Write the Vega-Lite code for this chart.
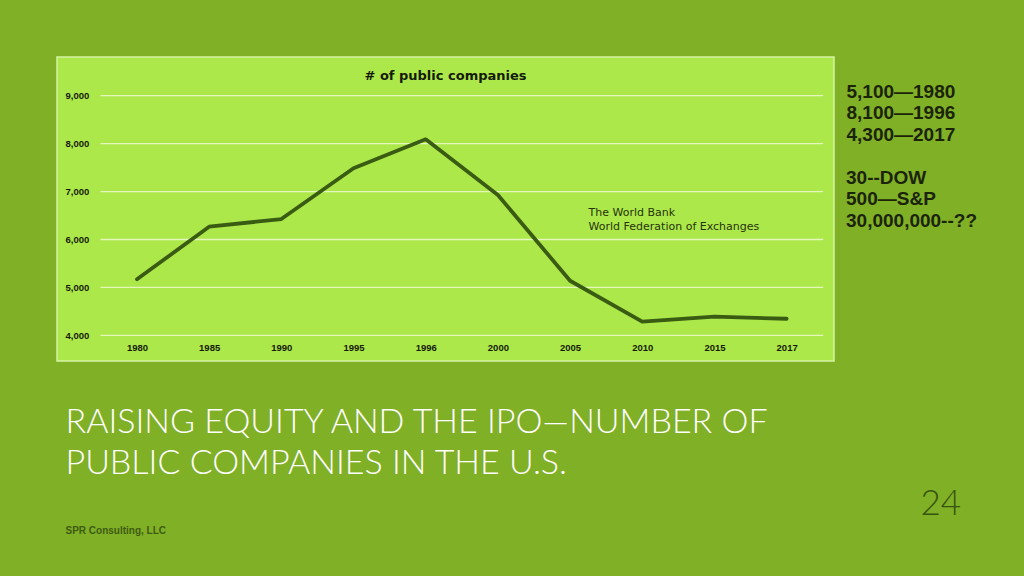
{
  "$schema": "https://vega.github.io/schema/vega-lite/v6.json",
  "width": 777,
  "height": 304,
  "autosize": {"type": "none"},
  "padding": {"left": 57, "top": 57, "right": 190, "bottom": 215},
  "background": "#80b026",
  "title": {
    "text": "# of public companies",
    "orient": "top",
    "anchor": "middle",
    "offset": -26,
    "font": "DejaVu Sans",
    "fontSize": 13,
    "fontWeight": "bold",
    "color": "#141a08"
  },
  "config": {
    "view": {"fill": "#ade84b", "stroke": "#d6f2a4", "strokeWidth": 1.5}
  },
  "datasets": {
    "companies": [
      {"year": "1980", "companies": 5170},
      {"year": "1985", "companies": 6266},
      {"year": "1990", "companies": 6427},
      {"year": "1995", "companies": 7485},
      {"year": "1996", "companies": 8090},
      {"year": "2000", "companies": 6928},
      {"year": "2005", "companies": 5139},
      {"year": "2010", "companies": 4284},
      {"year": "2015", "companies": 4388},
      {"year": "2017", "companies": 4346}
    ],
    "gridlines": [
      {"tick": 4000}, {"tick": 5000}, {"tick": 6000},
      {"tick": 7000}, {"tick": 8000}, {"tick": 9000}
    ],
    "notes": [
      {"note": "The World Bank\nWorld Federation of Exchanges"}
    ],
    "sidenotes": [
      {"note": "30--DOW\n500—S&P\n30,000,000--??"}
    ]
  },
  "layer": [
    {
      "data": {"name": "gridlines"},
      "mark": {"type": "rule", "color": "#e4f6bc", "strokeWidth": 1.3, "xOffset": -36.5, "x2Offset": 36.5},
      "encoding": {
        "x": {
          "datum": "1980",
          "type": "ordinal",
          "axis": {
            "orient": "top", "labels": false, "ticks": false, "domain": false, "grid": false,
            "title": "24", "titleX": 863, "titleY": 457, "titleAlign": "left", "titleBaseline": "alphabetic",
            "titleAngle": 0, "titleFont": "Lato", "titleFontWeight": 300, "titleFontSize": 35, "titleColor": "#36530f"
          }
        },
        "x2": {"datum": "2017"},
        "y": {
          "field": "tick",
          "type": "quantitative",
          "axis": {
            "orient": "right", "labels": false, "ticks": false, "domain": false, "grid": false,
            "title": ["5,100—1980", "8,100—1996", "4,300—2017"],
            "titleAngle": 0, "titleX": 12, "titleY": 40, "titleAlign": "left", "titleBaseline": "alphabetic",
            "titleFont": "Liberation Sans", "titleFontWeight": "bold", "titleFontSize": 19,
            "titleLineHeight": 21.7, "titleColor": "#1b240a"
          }
        }
      }
    },
    {
      "data": {"name": "companies"},
      "mark": {"type": "line", "color": "#3a5c12", "strokeWidth": 3.8, "strokeJoin": "round", "strokeCap": "round"},
      "encoding": {
        "x": {
          "field": "year",
          "type": "ordinal",
          "scale": {"type": "point", "padding": 0.882, "align": 0.628},
          "axis": {
            "orient": "bottom", "labelAngle": 0, "labelFont": "Liberation Sans", "labelFontWeight": "bold",
            "labelFontSize": 9.5, "labelColor": "#151a0a", "labelBaseline": "middle", "labelPadding": -13.7,
            "ticks": false, "domain": false, "grid": false,
            "title": ["RAISING EQUITY AND THE IPO—NUMBER OF", "PUBLIC COMPANIES IN THE U.S."],
            "titleX": 8, "titleY": 71, "titleAlign": "left", "titleBaseline": "alphabetic", "titleAngle": 0,
            "titleFont": "Lato", "titleFontWeight": 300, "titleFontSize": 34, "titleLineHeight": 41,
            "titleColor": "#ffffff"
          }
        },
        "y": {
          "field": "companies",
          "type": "quantitative",
          "scale": {"domain": [3464, 9808], "nice": false, "zero": false},
          "axis": {
            "orient": "left", "values": [4000, 5000, 6000, 7000, 8000, 9000],
            "labelExpr": "format(datum.value, ',.0f')",
            "labelFont": "Liberation Sans", "labelFontWeight": "bold", "labelFontSize": 9.5, "labelColor": "#151a0a",
            "labelAlign": "left", "labelBaseline": "middle", "labelPadding": -8,
            "ticks": false, "domain": false, "grid": false,
            "title": "SPR Consulting, LLC", "titleAngle": 0, "titleX": 8, "titleY": 476,
            "titleAlign": "left", "titleBaseline": "alphabetic",
            "titleFont": "Liberation Sans", "titleFontWeight": "bold", "titleFontSize": 10, "titleColor": "#3e5c12"
          }
        }
      }
    },
    {
      "data": {"name": "notes"},
      "mark": {
        "type": "text", "align": "left", "baseline": "alphabetic", "dx": 18.5,
        "font": "DejaVu Sans", "fontSize": 11, "color": "#25330c", "lineBreak": "\n", "lineHeight": 13.7
      },
      "encoding": {
        "x": {"datum": "2005", "type": "ordinal", "axis": null},
        "y": {"datum": 6490, "type": "quantitative", "axis": null},
        "text": {"field": "note"}
      }
    },
    {
      "data": {"name": "sidenotes"},
      "mark": {
        "type": "text", "align": "left", "baseline": "alphabetic", "dx": 59.4, "clip": false,
        "font": "Liberation Sans", "fontWeight": "bold", "fontSize": 19, "color": "#1b240a",
        "lineBreak": "\n", "lineHeight": 21.7
      },
      "encoding": {
        "x": {"datum": "2017", "type": "ordinal", "axis": null},
        "y": {"datum": 7162, "type": "quantitative", "axis": null},
        "text": {"field": "note"}
      }
    }
  ],
  "resolve": {"axis": {"x": "independent", "y": "independent"}}
}
